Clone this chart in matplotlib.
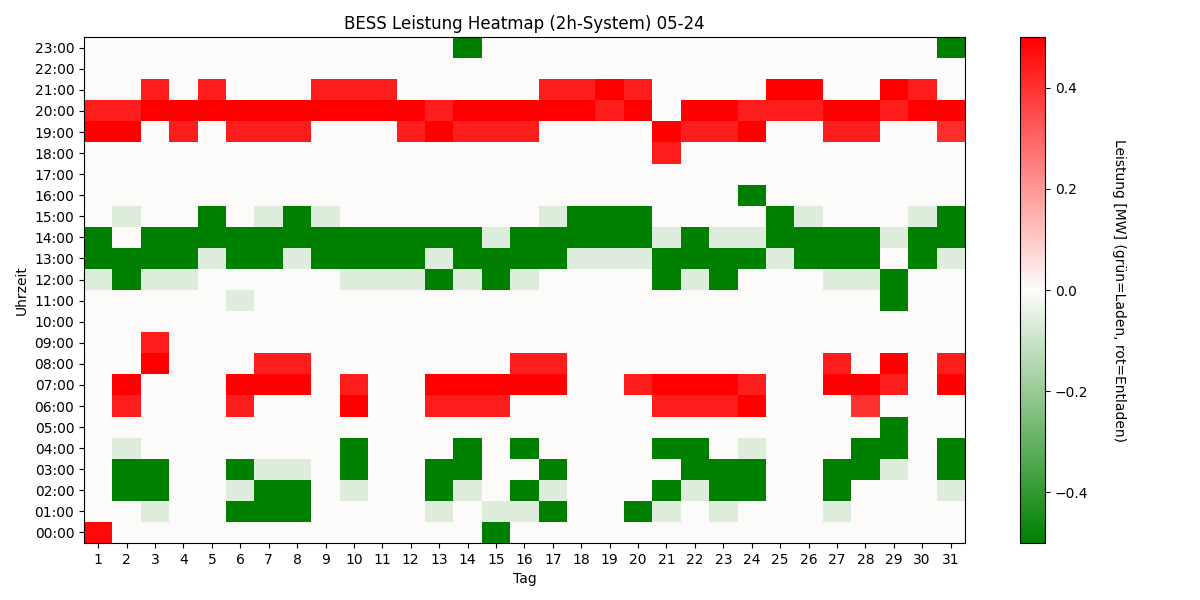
import matplotlib
matplotlib.use("Agg")
import matplotlib.pyplot as plt
import numpy as np
from matplotlib.colors import LinearSegmentedColormap

# Stufen der Leistung in MW
G = -0.5   # voll laden
g = -0.06  # leicht laden
R = 0.5    # voll entladen
r = 0.44   # entladen
o = 0.0

tage = list(range(1, 32))
stunden = ["%02d:00" % h for h in range(24)]

# Zeilen = Stunde 0..23, Spalten = Tag 1..31
leistung = [
    [0.48, o, o, o, o, o, o, o, o, o,  o, o, o, o, G, o, o, o, o, o,  o, o, o, o, o, o, o, o, o, o,  o],
    [o, o, g, o, o, G, G, G, o, o,  o, o, g, o, g, g, G, o, o, G,  g, o, g, o, o, o, g, o, o, o,  o],
    [o, G, G, o, o, g, G, G, o, g,  o, o, G, g, o, G, g, o, o, o,  G, g, G, G, o, o, G, o, o, o,  g],
    [o, G, G, o, o, G, g, g, o, G,  o, o, G, G, o, o, G, o, o, o,  o, G, G, G, o, o, G, G, g, o,  G],
    [o, g, o, o, o, o, o, o, o, G,  o, o, o, G, o, G, o, o, o, o,  G, G, o, g, o, o, o, G, G, o,  G],
    [o, o, o, o, o, o, o, o, o, o,  o, o, o, o, o, o, o, o, o, o,  o, o, o, o, o, o, o, o, G, o,  o],
    [o, r, o, o, o, r, o, o, o, R,  o, o, r, r, r, o, o, o, o, o,  r, r, r, R, o, o, o, 0.40, o, o,  o],
    [o, R, o, o, o, R, R, R, o, r,  o, o, R, R, R, R, R, o, o, r,  R, R, R, r, o, o, R, R, r, o,  R],
    [o, o, R, o, o, o, r, r, o, o,  o, o, o, o, o, r, r, o, o, o,  o, o, o, o, o, o, r, o, R, o,  r],
    [o, o, r, o, o, o, o, o, o, o,  o, o, o, o, o, o, o, o, o, o,  o, o, o, o, o, o, o, o, o, o,  o],
    [o, o, o, o, o, o, o, o, o, o,  o, o, o, o, o, o, o, o, o, o,  o, o, o, o, o, o, o, o, o, o,  o],
    [o, o, o, o, o, g, o, o, o, o,  o, o, o, o, o, o, o, o, o, o,  o, o, o, o, o, o, o, o, G, o,  o],
    [g, G, g, g, o, o, o, o, o, g,  g, g, G, g, G, g, o, o, o, o,  G, g, G, o, o, o, g, g, G, o,  o],
    [G, G, G, G, g, G, G, g, G, G,  G, G, g, G, G, G, G, g, g, g,  G, G, G, G, g, G, G, G, o, G,  g],
    [G, o, G, G, G, G, G, G, G, G,  G, G, G, G, g, G, G, G, G, G,  g, G, g, g, G, G, G, G, g, G,  G],
    [o, g, o, o, G, o, g, G, g, o,  o, o, o, o, o, o, g, G, G, G,  o, o, o, o, G, g, o, o, o, g,  G],
    [o, o, o, o, o, o, o, o, o, o,  o, o, o, o, o, o, o, o, o, o,  o, o, o, G, o, o, o, o, o, o,  o],
    [o, o, o, o, o, o, o, o, o, o,  o, o, o, o, o, o, o, o, o, o,  o, o, o, o, o, o, o, o, o, o,  o],
    [o, o, o, o, o, o, o, o, o, o,  o, o, o, o, o, o, o, o, o, o,  r, o, o, o, o, o, o, o, o, o,  o],
    [R, R, o, r, o, r, r, r, o, o,  o, r, R, r, r, r, o, o, o, o,  R, r, r, R, o, o, r, r, o, o,  0.41],
    [r, r, R, R, R, R, R, R, R, R,  R, R, r, R, R, R, R, R, r, R,  o, R, R, r, r, r, R, R, r, R,  R],
    [o, o, r, o, r, o, o, o, r, r,  r, o, o, o, o, o, r, r, R, r,  o, o, o, o, R, R, o, o, R, r,  o],
    [o, o, o, o, o, o, o, o, o, o,  o, o, o, o, o, o, o, o, o, o,  o, o, o, o, o, o, o, o, o, o,  o],
    [o, o, o, o, o, o, o, o, o, o,  o, o, o, G, o, o, o, o, o, o,  o, o, o, o, o, o, o, o, o, o,  G],
]

data = np.array(leistung)

cmap = LinearSegmentedColormap.from_list("laden_entladen", ["green", "#fdfcfa", "red"])

fig = plt.figure(figsize=(12, 6), dpi=100)
ax = fig.add_axes([0.07, 0.095, 0.734, 0.843])
cax = fig.add_axes([0.85, 0.095, 0.0208, 0.843])

im = ax.imshow(data, cmap=cmap, vmin=-0.5, vmax=0.5, aspect="auto", origin="lower")

ax.set_xticks(np.arange(len(tage)))
ax.set_xticklabels(tage)
ax.set_yticks(np.arange(len(stunden)))
ax.set_yticklabels(stunden)
ax.set_xlabel("Tag")
ax.set_ylabel("Uhrzeit")
ax.set_title("BESS Leistung Heatmap (2h-System) 05-24")

cbar = fig.colorbar(im, cax=cax)
cbar.set_label("Leistung [MW] (grün=Laden, rot=Entladen)", rotation=270, labelpad=27)

fig.savefig("out.png", dpi=100)
